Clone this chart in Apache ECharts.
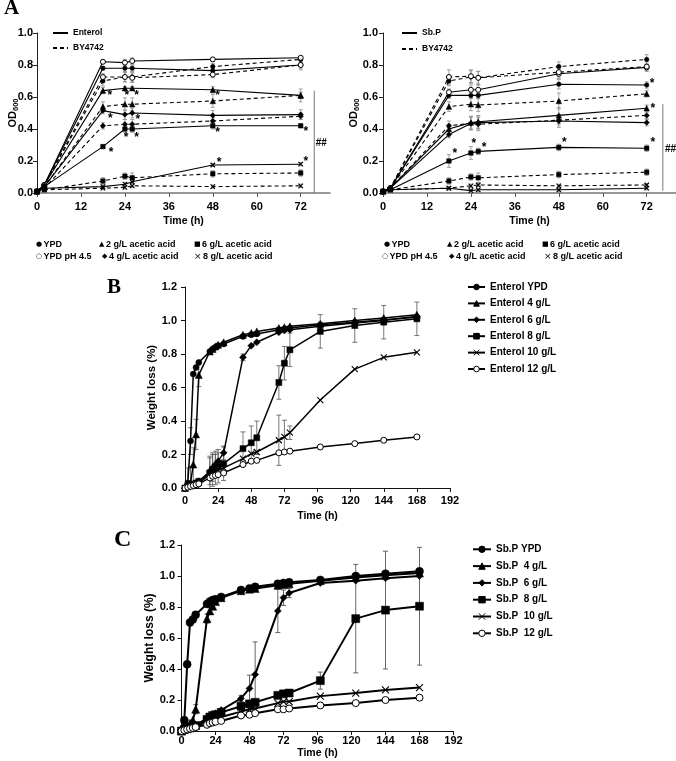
<!DOCTYPE html>
<html><head><meta charset="utf-8">
<script src="https://cdn.jsdelivr.net/npm/echarts@6/dist/echarts.min.js"></script>
<style>html,body{margin:0;padding:0;background:#fff}#c{width:676px;height:761px}</style>
</head><body><div id="c"></div><script>
// ---------------- DATA ----------------
// Panel A (OD600), time points (h)
const timesA = [0, 2, 18, 24, 26, 48, 72];
const ticksA = [0, 12, 24, 36, 48, 60, 72];
// Panel A left: Enterol (solid) vs BY4742 (dashed)
const entYPD   = [0.01, 0.05, 0.78, 0.78, 0.78, 0.765, 0.80];
const entPH45  = [0.01, 0.05, 0.82, 0.815, 0.825, 0.835, 0.845];
const ent2     = [0.01, 0.05, 0.64, 0.655, 0.655, 0.645, 0.61];
const ent4     = [0.01, 0.04, 0.515, 0.49, 0.50, 0.485, 0.49];
const ent6     = [0.01, 0.04, 0.29, 0.40, 0.40, 0.42, 0.42];
const ent8     = [0.01, 0.03, 0.04, 0.055, 0.07, 0.175, 0.18];
const byLYPD   = [0.01, 0.05, 0.70, 0.725, 0.725, 0.79, 0.835];
const byLPH45  = [0.01, 0.05, 0.725, 0.725, 0.72, 0.74, 0.80];
const byL2     = [0.01, 0.04, 0.54, 0.555, 0.555, 0.575, 0.61];
const byL4     = [0.01, 0.03, 0.42, 0.43, 0.43, 0.45, 0.48];
const byL6     = [0.01, 0.02, 0.075, 0.105, 0.095, 0.12, 0.125];
const byL8     = [0.01, 0.02, 0.03, 0.035, 0.045, 0.04, 0.045];
// error bars (SD) panel A left
const eEntYPD  = [0, 0, 0.01, 0.02, 0.02, 0.03, 0.02];
const eEntPH45 = [0, 0, 0.01, 0.02, 0.02, 0.01, 0.01];
const eEnt2    = [0, 0, 0.02, 0.01, 0.01, 0.02, 0.04];
const eEnt4    = [0, 0, 0.02, 0.03, 0.03, 0.03, 0.03];
const eEnt6    = [0, 0, 0.01, 0.02, 0.02, 0.02, 0.01];
const eEnt8    = [0, 0, 0.01, 0.01, 0.01, 0.01, 0.01];
const eByLYPD  = [0, 0, 0.03, 0.03, 0.03, 0.02, 0.02];
const eByLPH45 = [0, 0, 0.02, 0.03, 0.03, 0.02, 0.03];
const eByL2    = [0, 0, 0.03, 0.04, 0.04, 0.04, 0.02];
const eByL4    = [0, 0, 0.02, 0.03, 0.03, 0.02, 0.02];
const eByL6    = [0, 0, 0.02, 0.02, 0.03, 0.02, 0.02];
const eByL8    = [0, 0, 0.01, 0.01, 0.01, 0.01, 0.01];
// Panel A right: Sb.P (solid) vs BY4742 (dashed)
const sbYPD    = [0.01, 0.03, 0.61, 0.61, 0.61, 0.68, 0.675];
const sbPH45   = [0.01, 0.03, 0.63, 0.645, 0.645, 0.745, 0.785];
const sb2      = [0.01, 0.03, 0.40, 0.44, 0.445, 0.485, 0.53];
const sb4      = [0.01, 0.03, 0.365, 0.435, 0.44, 0.45, 0.44];
const sb6      = [0.01, 0.02, 0.20, 0.25, 0.26, 0.285, 0.28];
const sb8      = [0.01, 0.02, 0.03, 0.015, 0.02, 0.02, 0.03];
const byRYPD   = [0.01, 0.03, 0.70, 0.725, 0.72, 0.79, 0.835];
const byRPH45  = [0.01, 0.03, 0.725, 0.73, 0.72, 0.755, 0.79];
const byR2     = [0.01, 0.03, 0.54, 0.555, 0.55, 0.575, 0.62];
const byR4     = [0.01, 0.03, 0.42, 0.435, 0.43, 0.455, 0.485];
const byR6     = [0.01, 0.02, 0.075, 0.10, 0.095, 0.115, 0.13];
const byR8     = [0.01, 0.02, 0.03, 0.045, 0.05, 0.045, 0.05];
const eSbYPD   = [0, 0, 0.02, 0.02, 0.02, 0.03, 0.02];
const eSbPH45  = [0, 0, 0.02, 0.03, 0.03, 0.03, 0.02];
const eSb2     = [0, 0, 0.03, 0.04, 0.04, 0.05, 0.02];
const eSb4     = [0, 0, 0.02, 0.04, 0.04, 0.04, 0.02];
const eSb6     = [0, 0, 0.04, 0.04, 0.02, 0.02, 0.02];
const eSb8     = [0, 0, 0.01, 0.01, 0.01, 0.01, 0.01];
const eByRYPD  = [0, 0, 0.03, 0.04, 0.04, 0.03, 0.03];
const eByRPH45 = [0, 0, 0.045, 0.04, 0.04, 0.03, 0.03];
const eByR2    = [0, 0, 0.03, 0.04, 0.04, 0.05, 0.02];
const eByR4    = [0, 0, 0.03, 0.04, 0.04, 0.03, 0.02];
const eByR6    = [0, 0, 0.02, 0.02, 0.03, 0.02, 0.02];
const eByR8    = [0, 0, 0.01, 0.01, 0.01, 0.01, 0.01];
// significance marks (time, OD) and ## bracket
const starsL = [[19.9,0.625],[24.5,0.629],[27.2,0.625],[49.3,0.625],[20,0.483],[27.5,0.475],[24.3,0.364],[27.2,0.364],[49.3,0.396],[73.4,0.40],[20.2,0.27],[49.7,0.206],[73.4,0.212]];
const starsR = [[19.6,0.265],[24.8,0.326],[27.6,0.305],[49.5,0.334],[73.7,0.331],[73.5,0.705],[73.7,0.545]];
const hashLineL = [[75.7,0.64],[75.7,0]];
const hashLineR = [[76.4,0.555],[76.4,0.015]];
const hashTextL = [[77.6,0.31]];
const hashTextR = [[78.5,0.274]];
const legendCondA = ['YPD','YPD pH 4.5','2 g/L acetic acid','4 g/L acetic acid','6 g/L acetic acid','8 g/L acetic acid'];

// Panels B & C (weight loss), time points (h)
const timesW = [0, 2, 4, 6, 8, 10, 18, 20, 22, 24, 28, 42, 48, 52, 68, 72, 76, 98, 123, 144, 168];
const namesB = ['Enterol YPD','Enterol 4 g/L','Enterol 6 g/L','Enterol 8 g/L','Enterol 10 g/L','Enterol 12 g/L'];
const enterolYPD = [0,0.03,0.28,0.68,0.72,0.75,0.815,0.83,0.84,0.85,0.86,0.905,0.915,0.92,0.945,0.95,0.955,0.975,0.99,1.005,1.02];
const enterol4   = [0,0.02,0.03,0.14,0.32,0.675,0.815,0.83,0.845,0.855,0.87,0.915,0.925,0.935,0.955,0.96,0.965,0.98,1.0,1.015,1.035];
const enterol6   = [0,0.01,0.015,0.02,0.03,0.04,0.10,0.12,0.14,0.16,0.21,0.78,0.85,0.87,0.93,0.94,0.945,0.965,0.985,1.0,1.025];
const enterol8   = [0,0.01,0.015,0.02,0.03,0.04,0.09,0.11,0.12,0.13,0.145,0.235,0.27,0.30,0.63,0.745,0.825,0.935,0.97,0.99,1.01];
const enterol10  = [0,0.005,0.01,0.015,0.02,0.03,0.08,0.09,0.10,0.11,0.12,0.175,0.205,0.215,0.285,0.305,0.33,0.525,0.71,0.78,0.81];
const enterol12  = [0,0.005,0.01,0.015,0.02,0.025,0.06,0.07,0.075,0.08,0.09,0.14,0.16,0.165,0.21,0.215,0.22,0.245,0.265,0.285,0.305];
const errEnterolYPD = [0,0,0.08,0,0,0,0,0,0,0,0,0,0,0,0,0,0,0,0,0,0];
const errEnterol4   = [0,0.1,0.1,0.1,0.09,0.07,0,0,0,0,0,0,0,0,0,0,0,0,0,0,0];
const errEnterol6   = [0,0,0,0,0,0,0.08,0.08,0.06,0.05,0.04,0.02,0,0,0,0,0,0,0,0,0];
const errEnterol8   = [0,0,0,0,0,0,0.1,0.1,0.1,0.1,0.1,0.1,0.1,0.1,0.1,0.1,0.1,0.1,0.1,0.1,0.1];
const errEnterol10  = [0,0,0,0,0,0,0,0,0,0,0.04,0,0,0,0.15,0.1,0.04,0,0,0,0];
const errEnterol12  = [0,0,0,0,0,0,0,0,0,0,0,0,0,0,0,0,0,0,0,0,0];
const namesC = ['Sb.P YPD','Sb.P  4 g/L','Sb.P  6 g/L','Sb.P  8 g/L','Sb.P  10 g/L','Sb.P  12 g/L'];
const sbpYPD = [0,0.07,0.43,0.70,0.72,0.75,0.82,0.835,0.845,0.85,0.865,0.91,0.92,0.93,0.95,0.955,0.96,0.975,1.0,1.015,1.03];
const sbp4   = [0,0.02,0.03,0.05,0.07,0.14,0.725,0.775,0.805,0.835,0.86,0.905,0.915,0.92,0.94,0.945,0.95,0.97,0.99,1.005,1.02];
const sbp6   = [0,0.01,0.015,0.02,0.03,0.04,0.08,0.095,0.105,0.115,0.135,0.21,0.275,0.365,0.775,0.86,0.89,0.955,0.97,0.985,1.0];
const sbp8   = [0,0.01,0.015,0.02,0.025,0.035,0.075,0.09,0.10,0.105,0.12,0.16,0.175,0.185,0.23,0.24,0.245,0.325,0.725,0.78,0.805];
const sbp10  = [0,0.005,0.01,0.015,0.02,0.03,0.06,0.07,0.075,0.08,0.09,0.125,0.14,0.145,0.18,0.19,0.19,0.225,0.245,0.265,0.28];
const sbp12  = [0,0.005,0.01,0.015,0.02,0.025,0.04,0.05,0.055,0.06,0.065,0.10,0.105,0.115,0.14,0.14,0.145,0.165,0.18,0.20,0.215];
const errSbpYPD = [0,0,0,0,0,0,0,0,0,0,0,0,0,0,0,0,0,0,0,0,0];
const errSbp4   = [0,0,0,0,0,0.03,0.03,0.02,0,0,0,0,0,0,0,0,0,0,0,0,0];
const errSbp6   = [0,0,0,0,0,0,0,0,0,0,0,0.02,0.085,0.21,0.14,0.05,0.03,0,0,0,0];
const errSbp8   = [0,0,0,0,0,0,0,0,0,0,0,0,0,0,0,0,0,0.055,0.35,0.38,0.38];
const errSbp10  = [0,0,0,0,0,0,0,0,0,0,0,0,0,0,0,0,0,0,0,0,0];
const errSbp12  = [0,0,0,0,0,0,0,0,0,0,0,0,0,0,0,0,0,0,0,0,0];
const ticksW = [0, 24, 48, 72, 96, 120, 144, 168, 192];

// ---------------- STYLE / BUILD ----------------
const FONT = '"Liberation Sans", Arial, sans-serif';
const X_PATH = 'path://M0,0L10,10M10,0L0,10';
const MK = {
  circle: {symbol:'circle', fill:'#000', bw:0.5},
  open:   {symbol:'circle', fill:'#fff', bw:1},
  tri:    {symbol:'triangle', fill:'#000', bw:0.5},
  dia:    {symbol:'diamond', fill:'#000', bw:0.5},
  sq:     {symbol:'rect', fill:'#000', bw:0.5},
  x:      {symbol:X_PATH, fill:'none', bw:1.1}
};
const markOrder = ['circle','open','tri','dia','sq','x'];
const sizeA = {circle:4.5, open:5, tri:5.5, dia:5.5, sq:4.5, x:4.5};
const sizeB = {circle:6, open:6, tri:7, dia:7, sq:6, x:6};
const sizeC = {circle:8, open:7, tri:8, dia:7, sq:8, x:7};

function pairs(ts, vs){ return ts.map((t,i)=>[t, vs[i]]); }
function lineS(grid, name, ts, vs, mkKey, size, width, dash){
  const m = MK[mkKey];
  return {type:'line', name, xAxisIndex:grid, yAxisIndex:grid, data:pairs(ts,vs),
    symbol:m.symbol, symbolSize:size, showAllSymbol:true, silent:true, z:3,
    lineStyle:{color:'#000', width, type: dash ? [4,3] : 'solid'},
    itemStyle:{color:m.fill, borderColor:'#000', borderWidth:m.bw},
    emphasis:{disabled:true}};
}
function errS(grid, ts, vs, es, color, cap, lw){
  const data = [];
  ts.forEach((t,i)=>{ if (es[i] > 0) data.push([t, vs[i], Math.max(0, vs[i]-es[i]), vs[i]+es[i]]); });
  return {type:'custom', xAxisIndex:grid, yAxisIndex:grid, data, silent:true, z:2, encode:{x:0, y:1},
    renderItem(params, api){
      const x = api.value(0), lo = api.value(2), hi = api.value(3);
      const p1 = api.coord([x, hi]), p0 = api.coord([x, lo]);
      const st = {stroke:color, lineWidth:lw};
      const ch = [
        {type:'line', shape:{x1:p0[0], y1:p0[1], x2:p1[0], y2:p1[1]}, style:st},
        {type:'line', shape:{x1:p1[0]-cap, y1:p1[1], x2:p1[0]+cap, y2:p1[1]}, style:st}];
      if (lo > 0) ch.push({type:'line', shape:{x1:p0[0]-cap, y1:p0[1], x2:p0[0]+cap, y2:p0[1]}, style:st});
      return {type:'group', children:ch};
    }};
}
function textS(grid, pts, text, size, dy){
  return {type:'custom', xAxisIndex:grid, yAxisIndex:grid, data:pts, silent:true, z:5,
    renderItem(params, api){
      const c = api.coord([api.value(0), api.value(1)]);
      return {type:'text', x:c[0], y:c[1]+dy, style:{text, fill:'#000', fontSize:size, fontWeight:'bold', fontFamily:FONT, align:'center', verticalAlign:'middle'}};
    }};
}

const series = [];
// Panel A
const groupsAL = [
  [entYPD,eEntYPD,byLYPD,eByLYPD],[entPH45,eEntPH45,byLPH45,eByLPH45],[ent2,eEnt2,byL2,eByL2],
  [ent4,eEnt4,byL4,eByL4],[ent6,eEnt6,byL6,eByL6],[ent8,eEnt8,byL8,eByL8]];
const groupsAR = [
  [sbYPD,eSbYPD,byRYPD,eByRYPD],[sbPH45,eSbPH45,byRPH45,eByRPH45],[sb2,eSb2,byR2,eByR2],
  [sb4,eSb4,byR4,eByR4],[sb6,eSb6,byR6,eByR6],[sb8,eSb8,byR8,eByR8]];
[[0,groupsAL,'Enterol'],[1,groupsAR,'Sb.P']].forEach(([g, groups, strain])=>{
  groups.forEach((row, k)=>{
    const mk = markOrder[k];
    series.push(errS(g, timesA, row[0], row[1], '#8a8a8a', 2, 0.8));
    series.push(errS(g, timesA, row[2], row[3], '#8a8a8a', 2, 0.8));
    series.push(lineS(g, strain+' '+legendCondA[k], timesA, row[0], mk, sizeA[mk], 1.1, false));
    series.push(lineS(g, 'BY4742 '+legendCondA[k]+' '+g, timesA, row[2], mk, sizeA[mk], 1.1, true));
  });
  // legend dummies (line only)
  series.push({type:'line', name:strain, xAxisIndex:g, yAxisIndex:g, data:[], symbol:'none', color:'#000', itemStyle:{color:'#000', opacity:0}, lineStyle:{color:'#000', width:1.2}});
  series.push({type:'line', name:'BY4742', xAxisIndex:g, yAxisIndex:g, data:[], symbol:'none', color:'#000', itemStyle:{color:'#000', opacity:0}, lineStyle:{color:'#000', width:1.2, type:[4,3]}});
});
series.push(textS(0, starsL, '*', 12, 3));
series.push(textS(1, starsR, '*', 12, 3));
series.push({type:'line', xAxisIndex:0, yAxisIndex:0, data:hashLineL, symbol:'none', silent:true, lineStyle:{color:'#666', width:0.9}});
series.push({type:'line', xAxisIndex:1, yAxisIndex:1, data:hashLineR, symbol:'none', silent:true, lineStyle:{color:'#666', width:0.9}});
series.push(textS(0, hashTextL, '##', 10, 0));
series.push(textS(1, hashTextR, '##', 10, 0));

// Panels B and C
const rowsB = [[enterolYPD,errEnterolYPD],[enterol4,errEnterol4],[enterol6,errEnterol6],[enterol8,errEnterol8],[enterol10,errEnterol10],[enterol12,errEnterol12]];
const rowsC = [[sbpYPD,errSbpYPD],[sbp4,errSbp4],[sbp6,errSbp6],[sbp8,errSbp8],[sbp10,errSbp10],[sbp12,errSbp12]];
const markW = ['circle','tri','dia','sq','x','open'];
rowsB.forEach((r,k)=>{
  series.push(errS(2, timesW, r[0], r[1], '#555', 2.5, 0.8));
  series.push(lineS(2, namesB[k], timesW, r[0], markW[k], sizeB[markW[k]], 1.5, false));
});
rowsC.forEach((r,k)=>{
  series.push(errS(3, timesW, r[0], r[1], '#555', 2.5, 0.9));
  series.push(lineS(3, namesC[k], timesW, r[0], markW[k], sizeC[markW[k]], 2, false));
});

// axes
const lblStyle = {color:'#000', fontSize:11, fontWeight:'bold', fontFamily:FONT};
const nameStyle = {color:'#000', fontSize:10.5, fontWeight:'bold', fontFamily:FONT};
function xA(g){ return {gridIndex:g, type:'value', min:0, max:80, interval:12,
  axisLine:{show:true, onZero:false, lineStyle:{color:'#777', width:1.5}},
  axisTick:{show:true, length:4, customValues:ticksA, lineStyle:{color:'#555'}},
  axisLabel:Object.assign({customValues:ticksA, margin:8}, lblStyle),
  splitLine:{show:false}, name:'Time (h)', nameLocation:'middle', nameGap:23, nameTextStyle:nameStyle}; }
function yA(g, gap, margin){ return {gridIndex:g, type:'value', min:0, max:1, interval:0.2,
  axisLine:{show:true, lineStyle:{color:'#222', width:1}},
  axisTick:{show:true, length:4, lineStyle:{color:'#222'}},
  axisLabel:Object.assign({margin, formatter:v=>v.toFixed(1)}, lblStyle),
  splitLine:{show:false}, name:'{a|OD}{b|600}', nameLocation:'middle', nameGap:gap, nameMoveOverlap:false,
  nameTextStyle:{rich:{a:{fontSize:11, fontWeight:'bold', fontFamily:FONT, color:'#000', lineHeight:14},
                      b:{fontSize:7.5, fontWeight:'bold', fontFamily:FONT, color:'#000', lineHeight:9, verticalAlign:'bottom'}}}}; }
function xW(g, margin, gap){ return {gridIndex:g, type:'value', min:0, max:192, interval:24,
  axisLine:{show:true, onZero:false, lineStyle:{color:'#111', width:1}},
  axisTick:{show:true, length:4, lineStyle:{color:'#111'}},
  axisLabel:Object.assign({margin}, lblStyle),
  splitLine:{show:false}, name:'Time (h)', nameLocation:'middle', nameGap:gap, nameTextStyle:nameStyle}; }
function yW(g, margin, gap, fs){ return {gridIndex:g, type:'value', min:0, max:1.2, interval:0.2,
  axisLine:{show:true, lineStyle:{color:'#111', width:1}},
  axisTick:{show:true, length:4, lineStyle:{color:'#111'}},
  axisLabel:Object.assign({margin, formatter:v=>v.toFixed(1)}, lblStyle),
  splitLine:{show:false}, name:'Weight loss (%)', nameLocation:'middle', nameGap:gap,
  nameTextStyle:{color:'#000', fontSize:fs, fontWeight:'bold', fontFamily:FONT}}; }

// marker legend of panel A drawn as text glyphs
const glyphA = ['●','○','▲','◆','■','×'];
function markerLegend(pos){
  return pos.map((p,k)=>({type:'text', left:p[0], top:p[1], silent:true,
    style:{text:'{s|'+glyphA[k]+'}'+legendCondA[k], fill:'#000', fontSize:9, fontWeight:'bold', fontFamily:FONT,
      rich:{s:{fontSize: k===5 ? 9 : 7, fontFamily:'"DejaVu Sans", sans-serif', padding:[0,1.5,0,0], fill:'#000'}}}}));
}
const legPosL = [[36,240],[36,252],[99,240],[102,252],[194,240],[194,252]];
const legPosR = [[384,240],[382,252],[447,240],[449,252],[542,240],[544,252]];

const legText = (fs, lh)=>({color:'#000', fontSize:fs, fontWeight:'bold', fontFamily:FONT, lineHeight:lh});
const option = {
  animation:false,
  backgroundColor:'#fff',
  grid:[
    {left:37, top:33, width:293, height:160},
    {left:383, top:33, width:293, height:160},
    {left:185, top:287, width:265, height:201},
    {left:181.5, top:545, width:272, height:186}
  ],
  xAxis:[xA(0), xA(1), xW(2, 7.5, 23), xW(3, 4, 17)],
  yAxis:[yA(0, 17, 4), yA(1, 22, 5), yW(2, 8, 26, 11.5), yW(3, 6.5, 24.5, 12)],
  legend:[
    {data:['Enterol','BY4742'], left:47, top:22.5, orient:'vertical', itemWidth:15, itemHeight:8, itemGap:4, selectedMode:false, textStyle:legText(8.5, 11)},
    {data:['Sb.P','BY4742'], left:396, top:22.5, orient:'vertical', itemWidth:15, itemHeight:8, itemGap:5, selectedMode:false, textStyle:legText(8.5, 11)},
    {data:namesB, left:462, top:276, orient:'vertical', itemWidth:17, itemHeight:7, itemGap:4.4, selectedMode:false, itemStyle:{borderWidth:1}, textStyle:legText(10, 12)},
    {data:namesC, left:467, top:538.3, orient:'vertical', itemWidth:18, itemHeight:8, itemGap:4.8, selectedMode:false, itemStyle:{borderWidth:1}, textStyle:legText(10, 12)}
  ],
  graphic:[
    {type:'text', left:4, top:-2, silent:true, style:{text:'A', fontSize:21, fontWeight:'bold', fontFamily:'"Liberation Serif", serif', fill:'#000'}},
    {type:'text', left:107, top:277, silent:true, style:{text:'B', fontSize:21, fontWeight:'bold', fontFamily:'"Liberation Serif", serif', fill:'#000'}},
    {type:'text', left:114, top:528, silent:true, style:{text:'C', fontSize:24, fontWeight:'bold', fontFamily:'"Liberation Serif", serif', fill:'#000'}}
  ].concat(markerLegend(legPosL), markerLegend(legPosR)),
  series
};
const chart = echarts.init(document.getElementById('c'), null, {renderer:'canvas'});
chart.setOption(option);
</script></body></html>
